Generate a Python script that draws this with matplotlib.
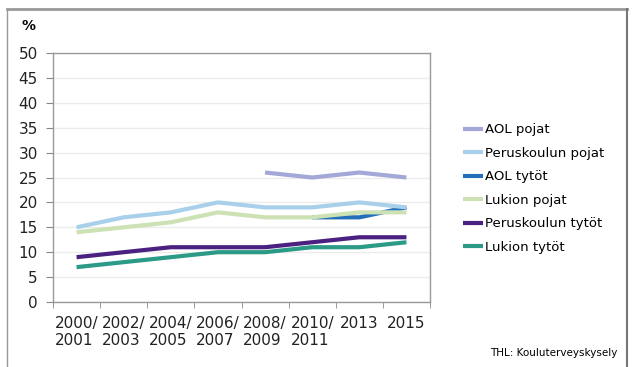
import matplotlib.pyplot as plt
from matplotlib.lines import Line2D
import numpy as np

plt.rcParams['font.family'] = ['DejaVu Sans']

years = ['2000/\n2001', '2002/\n2003', '2004/\n2005', '2006/\n2007',
         '2008/\n2009', '2010/\n2011', '2013', '2015']

aol_pojat = [None, None, None, None, 26, 25, 26, 25]
perus_pojat = [15, 17, 18, 20, 19, 19, 20, 19]
aol_tytot = [None, None, None, None, None, 17, 17, 19]
lukio_pojat = [14, 15, 16, 18, 17, 17, 18, 18]
perus_tytot = [9, 10, 11, 11, 11, 12, 13, 13]
lukio_tytot = [7, 8, 9, 10, 10, 11, 11, 12]

series = [
    ('AOL pojat', aol_pojat, '#a3a8d8'),
    ('Peruskoulun pojat', perus_pojat, '#a9d0ea'),
    ('AOL tytöt', aol_tytot, '#2470b8'),
    ('Lukion pojat', lukio_pojat, '#cde2b4'),
    ('Peruskoulun tytöt', perus_tytot, '#4a2180'),
    ('Lukion tytöt', lukio_tytot, '#2b9a87'),
]

fig = plt.figure(figsize=(6.35, 3.67), dpi=100)
ax = fig.add_axes([53 / 635, 1 - 302 / 367, 377 / 635, 249 / 367])

x = np.arange(len(years))
# blue AOL line sits under the light green one, as in the original
order = [2, 3, 1, 0, 5, 4]
for i in order:
    name, vals, col = series[i]
    y = np.array([np.nan if v is None else v for v in vals], dtype=float)
    ax.plot(x, y, color=col, lw=3, solid_capstyle='butt', label=name, zorder=3)

ax.set_xlim(-0.5, len(years) - 0.5)
ax.set_ylim(0, 50)
ax.set_yticks(range(0, 51, 5))
ax.set_xticks(x)
ax.set_xticklabels(years, fontsize=11, linespacing=1.15, color='#222222')
ax.set_xticks(np.arange(-0.5, len(years), 1), minor=True)
ax.tick_params(axis='x', which='major', length=0, pad=10)
ax.tick_params(axis='x', which='minor', length=4, color='#888888')
ax.tick_params(axis='y', length=5, color='#888888', labelsize=11, pad=6,
               labelcolor='#222222')
for lbl in ax.get_xticklabels():
    lbl.set_multialignment('left')
ax.grid(axis='y', color='#ececec', lw=1)
ax.set_axisbelow(True)
for s in ax.spines.values():
    s.set_color('#999999')
    s.set_linewidth(1)

handles = [Line2D([], [], color=c, lw=3, solid_capstyle='butt') for _, _, c in series]
labels = [n for n, _, _ in series]
fig.legend(handles, labels, loc='upper left', bbox_to_anchor=(458 / 635, 1 - 118 / 367),
           frameon=False, fontsize=9.5, handlelength=1.5, handletextpad=0.15,
           labelspacing=0.8, borderaxespad=0)

fig.text(22 / 635, 1 - 26 / 367, '%', fontsize=10, fontweight='bold', va='center')
fig.text(617 / 635, 1 - 353 / 367, 'THL: Kouluterveyskysely', fontsize=7.5,
         ha='right', va='center')

# outer frame (top, left, right)
fig.add_artist(Line2D([7 / 635, 627 / 635], [1 - 9 / 367, 1 - 9 / 367],
                      color='#999999', lw=2, transform=fig.transFigure))
fig.add_artist(Line2D([7 / 635, 7 / 635], [0, 1 - 9 / 367],
                      color='#999999', lw=1, transform=fig.transFigure))
fig.add_artist(Line2D([627 / 635, 627 / 635], [0, 1 - 9 / 367],
                      color='#777777', lw=1.5, transform=fig.transFigure))

fig.savefig('out.png', dpi=100)
